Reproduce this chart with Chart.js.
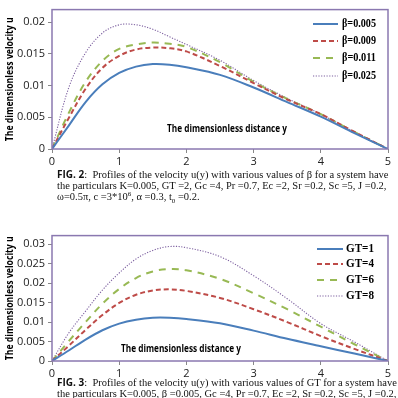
<!DOCTYPE html>
<html><head><meta charset="utf-8">
<script src="https://cdn.jsdelivr.net/npm/chart.js@4.4.1/dist/chart.umd.min.js"></script>
<style>
html,body{margin:0;padding:0;background:#fff;width:398px;height:398px;overflow:hidden;}
canvas{position:absolute;left:0;}
.cap{position:absolute;left:57px;width:305px;font-family:"Liberation Serif","Times New Roman",serif;font-size:10.5px;line-height:12px;white-space:nowrap;color:#111;z-index:2;}
.j{text-align:justify;text-align-last:justify;}
.cap b{font-family:"Open Sans","Liberation Sans",sans-serif;font-weight:700;font-size:10px;}
</style></head>
<body>
<canvas id="c1" width="398" height="168" style="top:0"></canvas>
<canvas id="c2" width="398" height="153" style="top:226px"></canvas>
<div class="cap j" style="top:168px"><b>FIG. 2</b>:&nbsp; Profiles of the velocity u(y) with various values of β for a system have</div>
<div class="cap j" style="top:180px">the particulars K=0.005, GT =2, Gc =4, Pr =0.7, Ec =2, Sr =0.2, Sc =5, J =0.2,</div>
<div class="cap" style="top:191px">ω=0.5π, c =3*10<sup style="font-size:7px;line-height:0">6</sup>, α =0.3, t<sub style="font-size:7px;line-height:0">0</sub> =0.2.</div>
<div class="cap j" style="top:376px"><b>FIG. 3</b>:&nbsp; Profiles of the velocity u(y) with various values of GT for a system have</div>
<div class="cap j" style="top:388px">the particulars K=0.005, β =0.005, Gc =4, Pr =0.7, Ec =2, Sr =0.2, Sc =5, J =0.2,</div>
<script>
// ---- data ----
const xValues = [0, 0.25, 0.5, 0.75, 1, 1.25, 1.5, 1.75, 2, 2.5, 3, 3.5, 4, 4.5, 5];
const xTicks = [0, 1, 2, 3, 4, 5];

const betaLabels = ['β=0.005', 'β=0.009', 'β=0.011', 'β=0.025'];
const beta005 = [0, 0.0037, 0.0074, 0.0102, 0.0120, 0.0130, 0.0134, 0.0133, 0.0129, 0.0117, 0.0097, 0.0074, 0.0051, 0.0025, 0];
const beta009 = [0, 0.0049, 0.0095, 0.0128, 0.0147, 0.0157, 0.0160, 0.0159, 0.0154, 0.0131, 0.0104, 0.0078, 0.0055, 0.0027, 0];
const beta011 = [0, 0.0057, 0.0106, 0.0139, 0.0158, 0.0165, 0.0168, 0.0166, 0.0161, 0.0137, 0.0106, 0.0079, 0.0055, 0.0027, 0];
const beta025 = [0, 0.0097, 0.0152, 0.0183, 0.0196, 0.0196, 0.0189, 0.0177, 0.0165, 0.0140, 0.0108, 0.0080, 0.0055, 0.0027, 0];
const yTicks1 = [0, 0.005, 0.01, 0.015, 0.02];

const gtLabels = ['GT=1', 'GT=4', 'GT=6', 'GT=8'];
const gt1 = [0, 0.0027, 0.0055, 0.0079, 0.0096, 0.0106, 0.0111, 0.0111, 0.0108, 0.0097, 0.0078, 0.0057, 0.0038, 0.0019, 0];
const gt4 = [0, 0.0039, 0.0080, 0.0118, 0.0149, 0.0170, 0.0181, 0.0184, 0.0180, 0.0162, 0.0133, 0.0100, 0.0064, 0.0031, 0];
const gt6 = [0, 0.0051, 0.0100, 0.0147, 0.0185, 0.0213, 0.0230, 0.0236, 0.0233, 0.0211, 0.0174, 0.0133, 0.0088, 0.0043, 0];
const gt8 = [0, 0.0072, 0.0128, 0.0182, 0.0226, 0.0262, 0.0284, 0.0294, 0.0291, 0.0268, 0.0219, 0.0160, 0.0096, 0.0049, 0];
const yTicks2 = [0, 0.005, 0.01, 0.015, 0.02, 0.025, 0.03];

const xTitle = 'The dimensionless distance y';
const yTitle = 'The dimensionless velocity u';

// ---- styles ----
const styles = [
  {color: '#4A7EBB', dash: [], width: 2},
  {color: '#BE4B48', dash: [5, 3], width: 2},
  {color: '#98B954', dash: [7, 6], width: 2},
  {color: '#7D60A0', dash: [1.2, 1.5], width: 1.1}
];

function makeDatasets(labels, series) {
  return series.map((s, i) => ({
    label: labels[i],
    data: s.map((v, k) => ({x: xValues[k], y: v})),
    borderColor: styles[i].color,
    borderDash: styles[i].dash,
    borderWidth: styles[i].width,
    pointRadius: 0,
    fill: false,
    tension: 0.35
  }));
}

const overlay = {
  id: 'overlay',
  afterDraw(chart, args, o) {
    const ctx = chart.ctx, a = chart.chartArea;
    ctx.save();
    ctx.strokeStyle = '#8A78B0';
    ctx.lineWidth = 1.5;
    ctx.setLineDash([]);
    ctx.strokeRect(a.left, a.top, a.right - a.left, a.bottom - a.top);
    ctx.fillStyle = '#000';
    ctx.font = 'bold 11px "Open Sans", "Liberation Sans", sans-serif';
    ctx.textAlign = 'center';
    ctx.textBaseline = 'middle';
    ctx.fillText(xTitle, o.xLabelX, o.xLabelY, 120);
    ctx.save();
    ctx.translate(10, (a.top + a.bottom) / 2);
    ctx.rotate(-Math.PI / 2);
    ctx.fillText(yTitle, 0, 0, 124);
    ctx.restore();
    // legend
    ctx.textAlign = 'left';
    ctx.font = 'bold 11.5px "Liberation Serif", "Times New Roman", serif';
    chart.data.datasets.forEach((ds, i) => {
      const y = o.legY[i];
      ctx.beginPath();
      ctx.strokeStyle = ds.borderColor;
      ctx.lineWidth = ds.borderWidth;
      ctx.setLineDash(ds.borderDash);
      ctx.moveTo(o.legX1, y);
      ctx.lineTo(o.legX2, y);
      ctx.stroke();
      ctx.fillStyle = '#000';
      ctx.fillText(ds.label, o.legTextX, y + 0.5, o.legTextW);
    });
    ctx.restore();
  }
};

function makeChart(id, labels, series, yMax, yTicks, axisH, ov) {
  return new Chart(document.getElementById(id), {
    type: 'line',
    data: {datasets: makeDatasets(labels, series)},
    plugins: [overlay],
    options: {
      responsive: false,
      animation: false,
      devicePixelRatio: 1,
      layout: {padding: {top: 3, right: 10, left: 0, bottom: 0}},
      plugins: {legend: {display: false}, tooltip: {enabled: false}, overlay: ov},
      scales: {
        x: {
          type: 'linear', min: 0, max: 5,
          afterBuildTicks: s => { s.ticks = xTicks.map(v => ({value: v})); },
          afterFit: s => { s.height = axisH; },
          grid: {drawOnChartArea: false, tickLength: 4, color: '#888'},
          border: {display: false},
          ticks: {font: {family: '"Open Sans", "Liberation Sans", sans-serif', size: 11}, color: '#222', padding: 2, maxRotation: 0}
        },
        y: {
          type: 'linear', min: 0, max: yMax,
          afterBuildTicks: s => { s.ticks = yTicks.map(v => ({value: v})); },
          afterFit: s => { s.width = 52; },
          grid: {drawOnChartArea: false, tickLength: 4, color: '#888'},
          border: {display: false},
          ticks: {font: {family: '"Open Sans", "Liberation Sans", sans-serif', size: 11}, color: '#222', padding: 3,
                  callback: v => String(Number(v.toFixed(3)))}
        }
      }
    }
  });
}

makeChart('c1', betaLabels, [beta005, beta009, beta011, beta025], 0.022, yTicks1, 19,
  {xLabelX: 227, xLabelY: 129, legX1: 313, legX2: 338, legTextX: 342, legTextW: 34, legY: [24, 41, 58, 76]});
makeChart('c2', gtLabels, [gt1, gt4, gt6, gt8], 0.0322, yTicks2, 18,
  {xLabelX: 181, xLabelY: 123, legX1: 317, legX2: 343, legTextX: 346, legTextW: 28, legY: [23, 38, 54, 70]});
</script>
</body></html>
